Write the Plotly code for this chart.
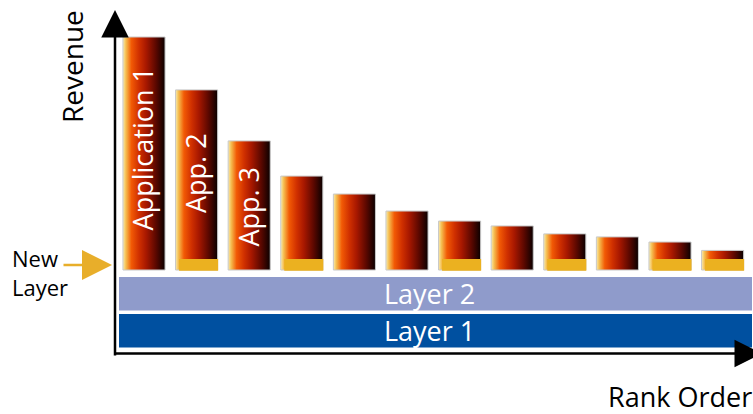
import plotly.graph_objects as go

# ---------------- data ----------------
ranks = list(range(1, 13))
revenue = [100, 77.3, 55.4, 40.3, 32.6, 25.3, 21.0, 18.9, 15.5, 14.2, 12.0, 8.4]
bar_labels = ["Application 1", "App. 2", "App. 3", "", "", "", "", "", "", "", "", ""]
new_layer_ranks = [2, 4, 7, 9, 11, 12]
new_layer_height = 4.7
layer_names = ["Layer 2", "Layer 1"]
layer_bottom = [-17.4, -33.3]
layer_top = [-3.0, -18.9]

# ---------------- geometry (pixel calibration) ----------------
W, H = 753, 414
X0, DX = 144.0, 52.6   # px of rank 1, px per rank
Y0, DY = 270.0, 2.33   # px of revenue 0, px per revenue unit


def xd(px):
    return 1 + (px - X0) / DX


def yd(py):
    return (Y0 - py) / DY


FONT = "Open Sans"
BAR_W = 0.8

grad = [[0.0, "#F8EBB0"], [0.07, "#F5BE50"], [0.2, "#F25A05"], [0.38, "#D03000"],
        [0.55, "#A81800"], [0.78, "#5C0800"], [1.0, "#0A0000"]]

fig = go.Figure()

# layers (horizontal bands) as bars
lx0, lx1 = xd(119), xd(752)
fig.add_trace(go.Bar(
    x=[(lx0 + lx1) / 2] * 2,
    y=[t - b for t, b in zip(layer_top, layer_bottom)],
    base=layer_bottom,
    width=[lx1 - lx0] * 2,
    marker=dict(color=["#8F9BCB", "#0050A0"], line=dict(width=0)),
    hoverinfo="skip",
    showlegend=False,
))

# gradient revenue bars
for r, v in zip(ranks, revenue):
    x0, x1 = r - BAR_W / 2, r + BAR_W / 2
    fig.add_trace(go.Scatter(
        x=[x0, x1, x1, x0, x0], y=[0, 0, v, v, 0],
        mode="lines", fill="toself",
        fillgradient=dict(type="horizontal", colorscale=grad, start=x0, stop=x1),
        line=dict(color="#C8C8C8", width=1),
        hoverinfo="skip", showlegend=False,
    ))

# new layer (yellow) pieces
for r in new_layer_ranks:
    x0 = r - BAR_W / 2 + 3.5 / DX
    x1 = r + BAR_W / 2 + 0.5 / DX
    fig.add_trace(go.Scatter(
        x=[x0, x1, x1, x0, x0], y=[-0.3, -0.3, new_layer_height, new_layer_height, -0.3],
        mode="lines", fill="toself", fillcolor="#EBB120",
        line=dict(width=0, color="#EBB120"),
        hoverinfo="skip", showlegend=False,
    ))

annotations = []
# labels inside bars
label_y_px = {1: 149, 2: 173, 3: 207}
for r, lab in zip(ranks, bar_labels):
    if lab:
        annotations.append(dict(x=r - 0.03, y=yd(label_y_px[r]), xref="x", yref="y", text=lab,
                                textangle=-90, showarrow=False, xanchor="center", yanchor="middle",
                                font=dict(family=FONT, size=27, color="white")))

# layer names
for name, b, t in zip(layer_names, layer_bottom, layer_top):
    annotations.append(dict(x=xd(429), y=(b + t) / 2, xref="x", yref="y", text=name,
                            showarrow=False, xanchor="center", yanchor="middle",
                            font=dict(family=FONT, size=27, color="white")))

# axis arrows
annotations.append(dict(x=xd(115), y=yd(10), ax=xd(115), ay=yd(357), xref="x", yref="y",
                        axref="x", ayref="y", text="", showarrow=True, arrowhead=2,
                        arrowsize=2.2, arrowwidth=2.5, arrowcolor="black"))
annotations.append(dict(x=xd(762), y=yd(353.5), ax=xd(113), ay=yd(353.5), xref="x", yref="y",
                        axref="x", ayref="y", text="", showarrow=True, arrowhead=2,
                        arrowsize=2.2, arrowwidth=2.5, arrowcolor="black"))
# new layer arrow
annotations.append(dict(x=xd(112), y=yd(265), ax=xd(62), ay=yd(265), xref="x", yref="y",
                        axref="x", ayref="y", text="", showarrow=True, arrowhead=2,
                        arrowsize=2.4, arrowwidth=2.5, arrowcolor="#E8AE2A"))

# texts
annotations.append(dict(x=72 / W, y=1 - 67 / H, xref="paper", yref="paper", text="Revenue",
                        textangle=-90, showarrow=False, xanchor="center", yanchor="middle",
                        font=dict(family=FONT, size=28, color="black")))
annotations.append(dict(x=680 / W, y=1 - 396 / H, xref="paper", yref="paper", text="Rank Order",
                        showarrow=False, xanchor="center", yanchor="middle",
                        font=dict(family=FONT, size=27, color="black")))
annotations.append(dict(x=10 / W, y=1 - 241 / H, xref="paper", yref="paper", text="New<br>Layer",
                        xanchor="left", yanchor="top", align="left", showarrow=False,
                        font=dict(family=FONT, size=22, color="black")))

fig.update_layout(
    width=W, height=H,
    margin=dict(l=0, r=0, t=0, b=0),
    paper_bgcolor="white", plot_bgcolor="white",
    xaxis=dict(range=[xd(0), xd(W)], visible=False, fixedrange=True),
    yaxis=dict(range=[yd(H), yd(0)], visible=False, fixedrange=True),
    barmode="overlay",
    annotations=annotations,
    showlegend=False,
)

fig.write_html("out.html")
